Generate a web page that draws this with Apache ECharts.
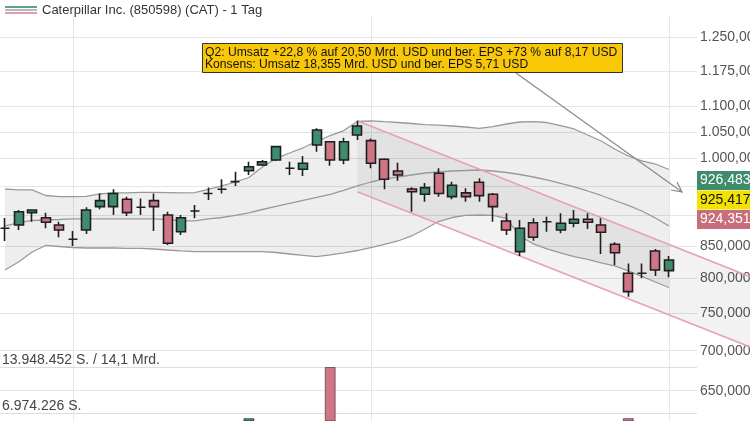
<!DOCTYPE html>
<html><head><meta charset="utf-8">
<script src="https://cdn.jsdelivr.net/npm/echarts@6/dist/echarts.min.js"></script>
<style>html,body{margin:0;padding:0;background:#fff}#c{width:750px;height:421px}</style>
</head><body><div id="c"></div>
<script>
// ---------- data ----------
const titleText = 'Caterpillar Inc. (850598) (CAT) - 1 Tag';
const openP = [878.1,883.5,903.9,895.5,883.5,860.4,875.3,914.0,914.0,926.6,913.0,924.2,900.0,872.6,906.7,936.6,943.9,957.3,976.9,987.3,
  996.5,981.3,979.5,1024.6,1030.8,996.5,1043.7,1032.8,997.8,976.4,944.4,935.2,972.3,931.1,937.6,956.2,935.2,890.1,840.9,887.2,
  888.9,875.3,886.3,892.9,883.5,852.5,807.9,807.9,842.0,811.9];
const closeP = [878.1,905.5,908.4,887.9,875.3,860.4,908.4,924.2,936.6,903.9,913.0,914.0,854.0,895.5,906.7,936.6,943.9,957.3,984.2,993.2,
  1021.4,981.3,990.4,1053.4,996.5,1030.8,1061.3,990.4,961.5,969.2,939.7,946.8,936.6,950.9,931.1,932.8,914.0,875.3,878.1,863.6,
  888.9,886.3,892.9,887.9,871.6,839.3,780.9,807.9,812.9,828.1];
const lowP = [857.7,875.3,888.9,878.1,863.6,849.8,868.9,909.6,900.0,898.3,900.0,873.7,851.4,867.3,894.5,925.4,936.6,949.7,969.2,985.5,
  994.6,969.2,967.4,1011.9,986.0,988.6,1034.1,981.3,943.9,959.1,905.5,922.5,931.1,926.6,922.5,922.5,888.9,867.3,834.3,858.2,
  872.6,870.0,879.7,877.0,837.3,820.4,773.6,801.0,803.9,802.0];
const highP = [895.0,908.4,909.6,903.9,888.9,873.7,913.0,936.6,943.9,931.1,928.0,936.6,905.5,900.0,916.8,946.8,961.5,975.1,993.2,996.5,
  1023.3,993.2,1003.9,1056.7,1030.8,1038.2,1071.7,1037.0,999.6,991.4,947.5,954.8,981.3,957.3,945.7,963.3,937.4,902.8,891.7,894.5,
  897.2,902.8,908.4,902.8,894.5,855.7,822.6,822.6,845.0,834.3];
const volume = [3900000,4300000,3200000,3600000,3400000,3800000,4600000,3700000,4400000,4000000,3100000,3900000,5200000,4500000,3300000,
  3500000,3200000,3600000,6200000,3000000,4800000,3400000,3700000,5100000,13948452,5400000,4200000,5500000,5000000,3800000,
  4900000,3600000,4100000,3500000,3300000,3900000,4400000,4700000,5300000,4000000,3400000,3200000,3100000,3000000,4600000,
  5200000,6200000,4300000,4500000,3900000];
const bbUpper = [944.4,942.7,942.7,933.1,931.1,931.1,931.4,935.7,937.5,937.5,938.4,938.4,938.0,937.5,938.0,943.6,949.7,956.7,964.7,983.7,
  999.3,1009.5,1019.3,1031.2,1042.7,1052.4,1070.1,1071.5,1069.7,1068.1,1066.2,1063.8,1062.8,1061.2,1059.3,1056.7,1060.2,1065.2,1069.1,1069.7,
  1068.1,1062.2,1055.4,1043.7,1032.2,1017.0,1003.9,994.7,989.1,979.1];
const bbMiddle = [881.9,887.0,890.9,891.7,892.5,893.4,893.4,893.4,893.4,893.4,893.4,893.4,892.5,890.1,890.1,893.4,895.8,899.2,903.4,909.2,
  914.3,919.4,924.5,929.7,934.9,941.8,949.7,956.7,962.1,965.6,969.2,972.8,974.6,976.4,977.3,978.2,976.4,973.7,970.1,965.6,
  960.3,954.1,947.9,940.9,933.1,924.5,916.0,906.7,895.0,881.9];
const bbLower = [812.9,825.0,840.4,850.6,849.0,847.4,846.6,846.6,846.6,846.2,846.2,845.1,843.5,842.0,840.9,840.9,840.9,840.9,840.9,840.9,
  839.6,837.3,835.0,833.2,835.8,838.9,842.7,847.4,852.2,857.7,865.7,876.9,889.2,895.8,899.2,900.0,899.2,894.2,865.7,853.0,
  845.1,838.9,833.2,828.9,823.5,818.9,811.4,803.2,795.0,786.9];
const channelUpper = [[26, 1071.7], [55, 802.8]];
const channelLower = [[26, 939.6], [55, 704.8]];
const priceGridTicks = [650, 700, 750, 800, 850, 900, 950, 1000, 1050, 1100, 1175, 1250];
const priceLabelTicks = [650, 700, 750, 800, 850, 1000, 1050, 1100, 1175, 1250];
const monthTicks = [5, 27, 49];
const volumeMax = 13948452;
const volumeTicks = [6974226, 13948452];
const volumeTickLabels = ['6.974.226 S.', '13.948.452 S. / 14,1 Mrd.'];
const quotes = [926.483, 925.417, 924.351];
const annotationLines = ['Q2: Umsatz +22,8 % auf 20,50 Mrd. USD und ber. EPS +73 % auf 8,17 USD',
  'Konsens: Umsatz 18,355 Mrd. USD und ber. EPS 5,71 USD'];

// ---------- layout / style ----------
const FONT = '"Liberation Sans", Arial, sans-serif';
const UP = '#3f8b6d', DOWN = '#cf7585', EDGE = '#1e1e1e';
const W = 750, H = 421;
const STEP = 13.55, X0 = 5;          // px per trading day, x of first candle
const PX_PER_LN = 540;               // log-scale price axis: px per ln unit
const priceTop = 16.42, priceH = H - 16.42;
const plotRight = 697;
const volTop = 367, volH = H - 367, volHalfPx = 46;
const L = Math.log;
const yMax = L(1300), yMin = yMax - priceH / PX_PER_LN;
const xMin = -X0 / STEP;
const xMaxMain = (W - X0) / STEP;
const xMaxPlot = (plotRight - X0) / STEP;
const volMin = volumeMax - volH * (volumeMax / 2) / volHalfPx;

function de(v, dec) {
  const s = v.toFixed(dec);
  const parts = s.split('.');
  const int = parts[0].replace(/\B(?=(\d{3})+(?!\d))/g, '.');
  return parts[1] ? int + ',' + parts[1] : int;
}

const candles = openP.map((o, i) => [i, L(o), L(closeP[i]), L(lowP[i]), L(highP[i])]);
const lineData = arr => arr.map((v, i) => [i, L(v)]);

const chart = echarts.init(document.getElementById('c'), null, {renderer: 'canvas'});

const gridBase = {containLabel: false, outerBoundsMode: 'none'};
const option = {
  animation: false,
  grid: [
    Object.assign({left: 0, top: priceTop, width: W, height: priceH}, gridBase),
    Object.assign({left: 0, top: priceTop, width: plotRight, height: priceH}, gridBase),
    Object.assign({left: 0, top: volTop, width: plotRight, height: volH}, gridBase)
  ],
  xAxis: [
    {type: 'value', gridIndex: 0, min: xMin, max: xMaxMain, show: false},
    {type: 'value', gridIndex: 1, min: xMin, max: xMaxPlot,
      axisLine: {show: false}, axisLabel: {show: false},
      axisTick: {show: false, customValues: monthTicks},
      splitLine: {show: true, lineStyle: {color: '#e6e6e6', width: 1}}},
    {type: 'value', gridIndex: 2, min: xMin, max: xMaxPlot, show: false}
  ],
  yAxis: [
    {type: 'value', gridIndex: 0, min: yMin, max: yMax, show: false},
    {type: 'value', gridIndex: 1, position: 'right', min: yMin, max: yMax,
      axisLine: {show: false},
      axisTick: {show: false, customValues: priceGridTicks.map(L)},
      splitLine: {show: true, lineStyle: {color: '#e6e6e6', width: 1}},
      axisLabel: {margin: 3, customValues: priceLabelTicks.map(L),
        formatter: v => de(Math.round(Math.exp(v)), 3),
        color: '#555', fontSize: 14, fontFamily: FONT}},
    {type: 'value', gridIndex: 2, position: 'left', min: volMin, max: volumeMax,
      axisLine: {show: false},
      axisTick: {show: false, customValues: volumeTicks},
      splitLine: {show: true, lineStyle: {color: '#dddddd', width: 1}},
      axisLabel: {inside: true, align: 'left', verticalAlign: 'bottom', margin: 2,
        customValues: volumeTicks, showMaxLabel: true, showMinLabel: true,
        formatter: v => volumeTickLabels[v > volumeMax * 0.75 ? 1 : 0],
        color: '#444', fontSize: 14, fontFamily: FONT}}
  ],
  series: [
    {type: 'custom', name: 'bbFill', xAxisIndex: 0, yAxisIndex: 0, z: 1, silent: true,
      data: [[0, L(bbUpper[0])]],
      renderItem: (params, api) => {
        const pts = [];
        for (let i = 0; i < bbUpper.length; i++) pts.push(api.coord([i, L(bbUpper[i])]));
        for (let i = bbLower.length - 1; i >= 0; i--) pts.push(api.coord([i, L(bbLower[i])]));
        return {type: 'polygon', shape: {points: pts}, style: {fill: 'rgba(0,0,0,0.065)'}};
      }},
    {type: 'custom', name: 'channelFill', xAxisIndex: 0, yAxisIndex: 0, z: 1, silent: true,
      data: [[channelUpper[0][0], L(channelUpper[0][1])]],
      renderItem: (params, api) => {
        const pts = [
          api.coord([channelUpper[0][0], L(channelUpper[0][1])]),
          api.coord([channelUpper[1][0], L(channelUpper[1][1])]),
          api.coord([channelLower[1][0], L(channelLower[1][1])]),
          api.coord([channelLower[0][0], L(channelLower[0][1])])
        ];
        return {type: 'polygon', shape: {points: pts}, style: {fill: 'rgba(0,0,0,0.05)'}};
      }},
    {type: 'line', name: 'bbUpper', xAxisIndex: 0, yAxisIndex: 0, z: 2, silent: true, showSymbol: false,
      data: lineData(bbUpper), lineStyle: {color: '#999', width: 1.3}},
    {type: 'line', name: 'bbMiddle', xAxisIndex: 0, yAxisIndex: 0, z: 2, silent: true, showSymbol: false,
      data: lineData(bbMiddle), lineStyle: {color: '#999', width: 1.3}},
    {type: 'line', name: 'bbLower', xAxisIndex: 0, yAxisIndex: 0, z: 2, silent: true, showSymbol: false,
      data: lineData(bbLower), lineStyle: {color: '#999', width: 1.3}},
    {type: 'line', name: 'chUpper', xAxisIndex: 0, yAxisIndex: 0, z: 3, silent: true, showSymbol: false, clip: false,
      data: channelUpper.map(p => [p[0], L(p[1])]), lineStyle: {color: '#e4a3b2', width: 1.5}},
    {type: 'line', name: 'chLower', xAxisIndex: 0, yAxisIndex: 0, z: 3, silent: true, showSymbol: false, clip: false,
      data: channelLower.map(p => [p[0], L(p[1])]), lineStyle: {color: '#e4a3b2', width: 1.5}},
    {type: 'candlestick', name: 'CAT', xAxisIndex: 0, yAxisIndex: 0, z: 5, barWidth: 9.5, clip: false,
      encode: {x: 0, y: [1, 2, 3, 4]},
      data: candles,
      itemStyle: {color: UP, color0: DOWN, borderColor: EDGE, borderColor0: EDGE, borderColorDoji: EDGE, borderWidth: 1.6}},
    {type: 'bar', name: 'Volumen', xAxisIndex: 2, yAxisIndex: 2, z: 5, barWidth: 11,
      data: volume.map((v, i) => ({value: [i, v],
        itemStyle: {color: closeP[i] >= openP[i] ? UP : DOWN, borderColor: 'rgba(0,0,0,0.45)', borderWidth: 1}}))}
  ]
};
chart.setOption(option);

// ---------- annotations ----------
const yQuote = chart.convertToPixel({yAxisIndex: 0}, L(quotes[1]));
const boxColors = [UP, '#f2e200', '#c86d7b'];
const boxText = ['#fff', '#111', '#fff'];
const graphics = [
  {type: 'line', z: 100, shape: {x1: 5, y1: 7, x2: 37, y2: 7}, style: {stroke: '#3f8b6d', lineWidth: 1.6}},
  {type: 'line', z: 100, shape: {x1: 5, y1: 10, x2: 37, y2: 10}, style: {stroke: '#aaaaaa', lineWidth: 1.6}},
  {type: 'line', z: 100, shape: {x1: 5, y1: 13, x2: 37, y2: 13}, style: {stroke: '#d08a98', lineWidth: 1.6}},
  {type: 'text', z: 100, x: 42, y: 10, style: {text: titleText, fill: '#333', font: '13px ' + FONT, verticalAlign: 'middle'}},
  {type: 'rect', z: 100, shape: {x: 202.5, y: 43.5, width: 420, height: 29}, style: {fill: '#f8c708', stroke: '#333', lineWidth: 1}},
  {type: 'text', z: 101, x: 205, y: 53, style: {text: annotationLines[0], fill: '#111', font: '12.15px ' + FONT, verticalAlign: 'middle'}},
  {type: 'text', z: 101, x: 205, y: 65, style: {text: annotationLines[1], fill: '#111', font: '12.15px ' + FONT, verticalAlign: 'middle'}},
  {type: 'polyline', z: 99, shape: {points: [[516, 73], [682, 192]]}, style: {stroke: '#888', lineWidth: 1.2, fill: null}},
  {type: 'polyline', z: 99, shape: {points: [[677, 182], [682, 192], [671, 190]]}, style: {stroke: '#888', lineWidth: 1.2, fill: null}}
];
quotes.forEach((q, k) => {
  const cy = yQuote + (k - 1) * 19.5;
  graphics.push({type: 'rect', z: 100, shape: {x: 697, y: cy - 9.5, width: 60, height: 19}, style: {fill: boxColors[k]}});
  graphics.push({type: 'text', z: 101, x: 700, y: cy, style: {text: de(q, 3), fill: boxText[k], font: '14px ' + FONT, verticalAlign: 'middle'}});
});
chart.setOption({graphic: graphics});
</script>
</body></html>
